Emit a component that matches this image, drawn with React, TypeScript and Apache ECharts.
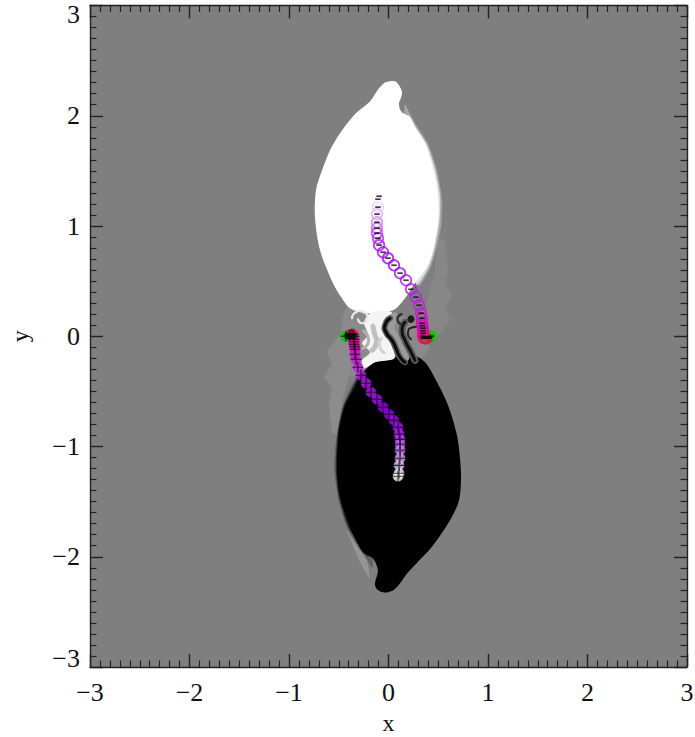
import React, { useEffect, useRef } from "react";
import * as echarts from "echarts";

type P = number[];

const whiteLobe: P[] = [[0.015,2.314],[0.07,2.31],[0.11,2.27],[0.136,2.214],[0.125,2.16],[0.106,2.114],[0.115,2.06],[0.146,2.024],[0.216,1.987],[0.266,1.897],[0.367,1.751],[0.447,1.534],[0.485,1.38],[0.503,1.207],[0.497,1.025],[0.447,0.78],[0.387,0.626],[0.266,0.481],[0.166,0.345],[0.045,0.236],[-0.216,0.209],[-0.387,0.254],[-0.48,0.36],[-0.558,0.481],[-0.688,0.78],[-0.739,1.08],[-0.729,1.325],[-0.668,1.506],[-0.588,1.688],[-0.525,1.79],[-0.457,1.88],[-0.33,2.02],[-0.186,2.13],[-0.14,2.19],[-0.085,2.26],[-0.04,2.3]];
const blackLobe: P[] = [[-0.055,-2.323],[-0.12,-2.29],[-0.136,-2.241],[-0.106,-2.123],[-0.156,-2.015],[-0.256,-1.96],[-0.387,-1.733],[-0.487,-1.461],[-0.518,-1.216],[-0.497,-0.853],[-0.437,-0.626],[-0.357,-0.49],[-0.256,-0.327],[-0.136,-0.236],[-0.015,-0.2],[0.246,-0.172],[0.367,-0.236],[0.477,-0.399],[0.598,-0.626],[0.688,-0.898],[0.72,-1.12],[0.729,-1.289],[0.709,-1.488],[0.618,-1.67],[0.447,-1.897],[0.186,-2.151],[0.116,-2.241],[0.045,-2.305]];
const whiteHazeOuter: P[] = [[0.16,2.1],[0.22,2.01],[0.29,1.9],[0.395,1.75],[0.48,1.53],[0.53,1.3],[0.54,1.2],[0.53,1.0],[0.47,0.76],[0.41,0.6],[0.3,0.46],[0.2,1.2]];
const whiteHazeInner: P[] = [[0.2,2.0],[0.28,1.89],[0.38,1.75],[0.465,1.53],[0.515,1.3],[0.52,1.2],[0.51,1.02],[0.46,0.78],[0.4,0.62],[0.28,0.47],[0.2,1.2]];
const blackHazeOuter: P[] = [[-0.16,-2.1],[-0.22,-2.02],[-0.3,-1.92],[-0.41,-1.75],[-0.5,-1.5],[-0.545,-1.2],[-0.525,-0.93],[-0.47,-0.66],[-0.39,-0.48],[-0.3,-0.36],[-0.2,-1.2]];
const blackHazeInner: P[] = [[-0.2,-2.0],[-0.29,-1.89],[-0.4,-1.74],[-0.495,-1.47],[-0.53,-1.2],[-0.51,-0.88],[-0.45,-0.63],[-0.37,-0.48],[-0.27,-0.33],[-0.2,-1.2]];
const rightPlume: P[] = [[0.568,0.871],[0.598,0.599],[0.568,0.463],[0.648,0.372],[0.568,0.254],[0.618,0.145],[0.487,-0.009],[0.367,0.054],[0.397,0.354],[0.467,0.599],[0.497,0.898]];
const leftPlume: P[] = [[-0.568,-0.871],[-0.598,-0.599],[-0.568,-0.463],[-0.648,-0.372],[-0.568,-0.254],[-0.618,-0.145],[-0.487,0.009],[-0.367,-0.054],[-0.397,-0.354],[-0.467,-0.599],[-0.497,-0.898]];
const neckHaze: P[] = [[-0.387,0.281],[0.015,0.218],[0.367,0.054],[0.367,-0.172],[0.015,-0.263],[-0.437,-0.354],[-0.487,-0.082]];
const lowerWedge: P[] = [[-0.42,-1.75],[-0.22,-2.03],[-0.19,-2.2],[-0.3,-2.02]];
const whiteTendril: P[] = [[-0.166,0.22],[0.03,0.22],[0.0,0.091],[-0.02,0.018],[0.03,-0.082],[0.06,-0.2],[-0.136,-0.236],[-0.246,-0.29],[-0.266,-0.218],[-0.186,-0.145],[-0.266,-0.064],[-0.206,0.009],[-0.246,0.127]];
const greyVein: P[] = [[-0.156,0.09],[-0.14,0.02],[-0.12,-0.05],[-0.166,-0.127]];
const greyVeinLower: P[] = [[-0.07,-0.02],[-0.09,-0.09],[-0.04,-0.15]];
const greyVeinEdge: P[] = [[-0.25,0.05],[-0.2,-0.04],[-0.26,-0.11]];
const swirl: P[] = [[-0.367,0.163],[-0.327,0.218],[-0.246,0.218],[-0.216,0.163],[-0.266,0.118],[-0.307,0.154]];
const filamentA: P[] = [[0.015,0.163],[-0.035,0.1],[-0.025,0.036],[0.035,-0.036],[0.075,-0.109],[0.116,-0.191],[0.166,-0.236]];
const bandA: P[] = [[0.06,0.17],[0.01,0.1],[0.02,0.036],[0.08,-0.036],[0.12,-0.109],[0.16,-0.191]];
const filamentB: P[] = [[0.166,0.127],[0.136,0.054],[0.166,-0.036],[0.216,-0.127],[0.266,-0.218]];
const filamentC: P[] = [[0.317,0.073],[0.246,0.082],[0.196,0.036],[0.226,-0.027]];
const filamentD: P[] = [[0.13,0.2],[0.09,0.16],[0.12,0.11]];
const speck: P[] = [[0.226,0.19],[0.26,0.154],[0.226,0.12],[0.19,0.154]];

const upperTrack: P[] = [[0.427,0],[0.397,-0.009],[0.377,-0.018],[0.357,-0.018],[0.347,0],[0.347,0.027],[0.347,0.05],[0.347,0.073],[0.34,0.095],[0.337,0.118],[0.337,0.163],[0.327,0.209],[0.307,0.281],[0.276,0.354],[0.226,0.426],[0.176,0.508],[0.116,0.572],[0.055,0.644],[-0.005,0.708],[-0.055,0.762],[-0.095,0.826],[-0.106,0.889],[-0.116,0.935],[-0.116,0.98],[-0.116,1.034],[-0.116,1.107],[-0.106,1.171],[-0.106,1.243],[-0.095,1.27]];
const lowerTrack: P[] = [[-0.427,0],[-0.397,0.009],[-0.377,0.018],[-0.357,0.018],[-0.347,0],[-0.347,-0.027],[-0.347,-0.05],[-0.347,-0.073],[-0.34,-0.095],[-0.337,-0.118],[-0.337,-0.163],[-0.327,-0.209],[-0.307,-0.281],[-0.276,-0.354],[-0.226,-0.426],[-0.176,-0.508],[-0.116,-0.572],[-0.055,-0.644],[0.005,-0.708],[0.055,-0.762],[0.095,-0.826],[0.106,-0.889],[0.116,-0.935],[0.116,-0.98],[0.116,-1.034],[0.116,-1.107],[0.106,-1.171],[0.106,-1.243],[0.095,-1.27]];
const trackColors: string[] = ["#00d000","#20b000","#e01020","#ff0050","#f80080","#f000a0","#ee00a8","#ea00b4","#e600bc","#e000c4","#d808d0","#d010dc","#c818e4","#c018ec","#b818f4","#b018f8","#a810fa","#a000ff","#a000ff","#a808ff","#b010ff","#b820ff","#c038ff","#c858ff","#d080ff","#e0a8ff","#ecc8ff","#f8ecff","#ffffff"];
const startDiscs: P[] = [[0.43, 0], [-0.43, 0]];
const upperCore: P[] = [[0.37, -0.012], [0.395, -0.012]];
const lowerCore: P[] = [[-0.395, 0], [-0.365, 0]];

const SERIF = "'Liberation Serif', serif";

function shape(points: P[], fill: string, smooth: number, z: number) {
  return {
    type: "custom",
    silent: true,
    z,
    coordinateSystem: "cartesian2d",
    data: [[0, 0]],
    renderItem: (_: unknown, api: any) => ({
      type: "polygon",
      shape: { points: points.map((p) => api.coord(p)), smooth },
      style: { fill, lineWidth: 0 },
    }),
  };
}

function stroke(points: P[], color: string, width: number, z: number) {
  return {
    type: "custom",
    silent: true,
    z,
    coordinateSystem: "cartesian2d",
    data: [[0, 0]],
    renderItem: (_: unknown, api: any) => ({
      type: "polyline",
      shape: { points: points.map((p) => api.coord(p)), smooth: 0.7 },
      style: { fill: "none", stroke: color, lineWidth: width, lineCap: "round", lineJoin: "round" },
    }),
  };
}

function rings(points: P[], width: number, filled: boolean, z: number) {
  return {
    type: "scatter",
    silent: true,
    z,
    symbol: "circle",
    symbolSize: filled ? 10 : 10.5,
    data: points.map((p, i) => ({
      value: p,
      itemStyle: {
        color: filled ? trackColors[i] : "rgba(0,0,0,0)",
        borderColor: trackColors[i],
        borderWidth: width,
      },
    })),
  };
}

function signs(points: P[], symbol: string, size: number | number[], z: number, color = "#0a0a0a") {
  return {
    type: "scatter",
    silent: true,
    z,
    symbol,
    symbolSize: size,
    itemStyle: { color },
    data: points,
  };
}

const PLUS = "path://M4.5 0H5.5V4.5H10V5.5H5.5V10H4.5V5.5H0V4.5H4.5Z";
const MINUS = "path://M0 0H10V3.2H0Z";

function axis(kind: "x" | "y", position: string, main: boolean) {
  const line = { lineStyle: { color: "#222", width: 1.4 } };
  return {
    type: "value",
    min: -3,
    max: 3,
    interval: 1,
    position,
    name: main ? kind : "",
    nameLocation: "middle",
    nameGap: kind === "x" ? 49 : 63,
    nameMoveOverlap: false,
    nameTextStyle: { fontFamily: SERIF, fontSize: 24, lineHeight: 14, color: "#111" },
    axisLine: { show: true, onZero: false, ...line },
    axisTick: { show: true, inside: true, length: 13, ...line },
    minorTick: { show: true, splitNumber: 10, length: 6.5, lineStyle: { color: "#222", width: 1.2 } },
    splitLine: { show: false },
    minorSplitLine: { show: false },
    axisLabel: {
      show: main,
      margin: kind === "x" ? 16 : 10,
      fontFamily: SERIF,
      fontSize: 26,
      lineHeight: 18,
      color: "#111",
      verticalAlignMinLabel: kind === "y" ? "bottom" : undefined,
      verticalAlignMaxLabel: kind === "y" ? "top" : undefined,
      formatter: (v: number) => (v < 0 ? "\u2212" + Math.abs(v) : String(v)),
    },
  };
}

export default function App() {
  const ref = useRef<HTMLDivElement>(null);
  useEffect(() => {
    const chart = echarts.init(ref.current!, null, { renderer: "svg" });
    chart.setOption({
      animation: false,
      backgroundColor: "#fff",
      grid: { left: 90, right: 8, top: 5.5, bottom: 70, show: true, backgroundColor: "#7f7f7f", borderWidth: 0, outerBoundsMode: "none" },
      xAxis: [axis("x", "bottom", true), axis("x", "top", false)],
      yAxis: [axis("y", "left", true), axis("y", "right", false)],
      series: [
        shape(neckHaze, "#8a8a8a", 0.4, 1),
        shape(rightPlume, "#878787", 0.1, 1),
        shape(leftPlume, "#8c8c8c", 0.1, 1),
        shape(lowerWedge, "#959595", 0.2, 1),
        shape(whiteHazeOuter, "#a6a6a6", 0.25, 2),
        shape(whiteHazeInner, "#dcdcdc", 0.25, 2),
        shape(blackHazeOuter, "#606060", 0.25, 2),
        shape(blackHazeInner, "#2a2a2a", 0.25, 2),
        shape(whiteLobe, "#ffffff", 0.3, 3),
        shape(blackLobe, "#000000", 0.3, 3),
        shape(whiteTendril, "#f4f4f4", 0.3, 4),
        stroke(greyVein, "#c0c0c0", 5, 5),
        stroke(greyVeinLower, "#d4d4d4", 3, 5),
        stroke(greyVeinEdge, "#b0b0b0", 3, 5),
        stroke(swirl, "#e8e8e8", 2.2, 5),
        stroke(bandA, "#9c9c9c", 10, 5),
        stroke(filamentA, "#5a5a5a", 6, 6),
        stroke(filamentA, "#0a0a0a", 3, 7),
        stroke(filamentB, "#5c5c5c", 7, 6),
        stroke(filamentB, "#111111", 3, 7),
        stroke(filamentC, "#222222", 2, 7),
        stroke(filamentD, "#333333", 2.5, 7),
        shape(speck, "#1a1a1a", 0.5, 7),
        signs(startDiscs, "circle", 11, 9, "#00d000"),
        rings(upperTrack, 1.8, false, 10),
        rings(lowerTrack, 0.5, true, 10),
        signs(upperTrack, MINUS, [5.5, 1.7], 11),
        signs(lowerTrack, PLUS, 11, 11),
        signs(upperCore, "rect", [9, 2.5], 12),
        signs(lowerCore, "rect", [9, 6], 12),
      ],
    });
    return () => chart.dispose();
  }, []);
  return <div ref={ref} style={{ position: "fixed", left: 0, top: 0, width: 695, height: 737 }} />;
}
